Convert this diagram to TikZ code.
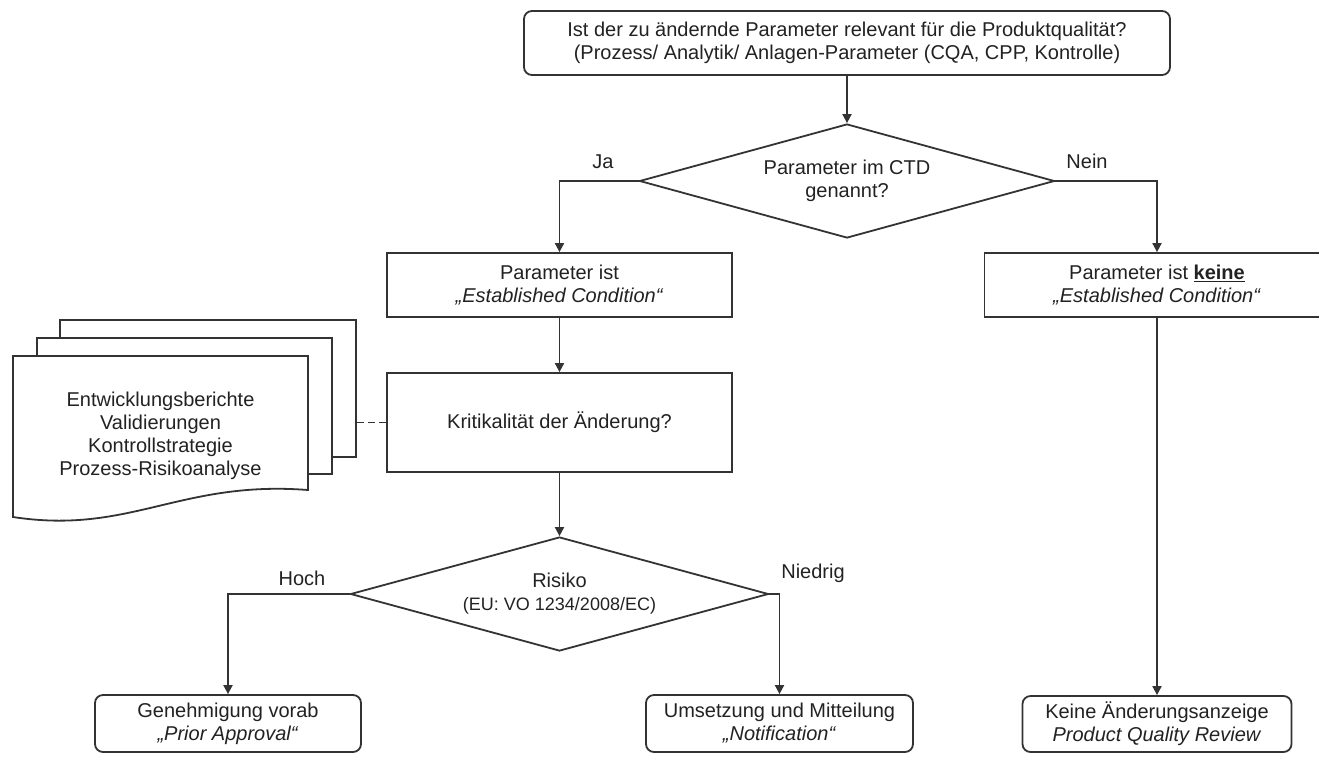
\documentclass[tikz,border=0pt]{standalone}
\usepackage{fontspec}
\setmainfont{Liberation Sans}
\usetikzlibrary{shapes.geometric,arrows.meta}
\definecolor{ln}{HTML}{333333}
\definecolor{tx}{HTML}{222222}
\begin{document}
\begin{tikzpicture}[x=1pt,y=-1pt,
  every node/.style={font=\fontsize{20}{23}\selectfont, text=tx},
  box/.style={draw=ln, line width=1.8pt, fill=white, inner sep=0pt, align=center},
  rbox/.style={box, rounded corners=8pt},
  dec/.style={draw=ln, line width=1.8pt, shape=diamond, inner sep=0pt, align=center, aspect=3.65},
  arr/.style={draw=ln, line width=1.8pt, -{Triangle[width=9pt,length=9pt]}},
  lbl/.style={inner sep=0pt},
  sheet/.style={draw=ln, line width=1.8pt, fill=white, inner sep=0pt},
  dashline/.style={draw=ln, line width=1.8pt, dash pattern=on 7pt off 4pt}
]
\useasboundingbox (0,0) rectangle (1319,756);
\clip (0,0) rectangle (1319,756);

% main flow
\node[rbox, minimum width=646pt, minimum height=64pt] (T) at (847,43)
  {Ist der zu ändernde Parameter relevant für die Produktqualität?\\(Prozess/ Analytik/ Anlagen-Parameter (CQA, CPP, Kontrolle)};
\node[dec, minimum width=415pt, minimum height=114pt] (D1) at (847,181) {Parameter im CTD\\genannt?};
\node[box, minimum width=345pt, minimum height=64pt] (A) at (559.5,285) {Parameter ist\\\textit{„Established Condition“}};
\node[box, minimum width=345pt, minimum height=64pt] (B) at (1157,285) {Parameter ist \underline{\textbf{keine}}\\\textit{„Established Condition“}};
\node[box, minimum width=345pt, minimum height=99pt] (K) at (559.5,422.5) {Kritikalität der Änderung?};
\node[dec, minimum width=418pt, minimum height=114pt] (D2) at (559.5,594) {Risiko\\{\fontsize{18}{21}\selectfont (EU: VO 1234/2008/EC)}};
\node[rbox, minimum width=266pt, minimum height=57pt] (C1) at (228,723.5) {Genehmigung vorab\\\textit{„Prior Approval“}};
\node[rbox, minimum width=267pt, minimum height=57pt] (C2) at (779.5,723.5) {Umsetzung und Mitteilung\\\textit{„Notification“}};
\node[rbox, minimum width=269pt, minimum height=56pt] (C3) at (1157,724) {Keine Änderungsanzeige\\\textit{Product Quality Review}};

% labels
\node[lbl] (ja) at (603,162) {Ja};
\node[lbl] (nein) at (1087,161) {Nein};
\node[lbl] (hoch) at (302,578) {Hoch};
\node[lbl] (niedrig) at (813,573) {Niedrig};

% connectors
\draw[arr] (T.south) -- (D1.north);
\draw[arr] (D1.west) -| (A.north);
\draw[arr] (D1.east) -| (B.north);
\draw[arr] (A.south) -- (K.north);
\draw[arr] (K.south) -- (D2.north);
\draw[arr] (D2.west) -| (C1.north);
\draw[arr] (D2.east) -| (C2.north);
\draw[arr] (B.south) -- (C3.north);

% document stack
\node[sheet, minimum width=296pt, minimum height=137pt] (S3) at (208,388.5) {};
\node[sheet, minimum width=295pt, minimum height=136pt] (S2) at (184.5,406) {};
\draw[draw=ln, line width=1.8pt, fill=white] (13,356) -- (308,356) -- (308,490)
  .. controls (180,480) and (130,535) .. (13,517) -- cycle;
\node[align=center, inner sep=0pt] (S1) at (160.5,435.5) {Entwicklungsberichte\\Validierungen\\Kontrollstrategie\\Prozess-Risikoanalyse};
\draw[dashline] (S3.east |- K.west) -- (K.west);
\end{tikzpicture}
\end{document}
